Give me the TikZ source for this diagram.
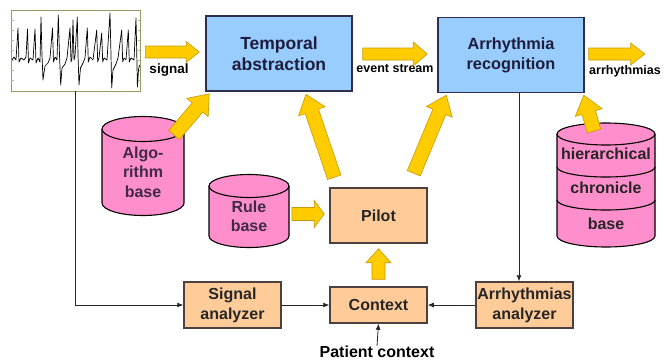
\documentclass[tikz,border=0pt]{standalone}
\usepackage{fontspec}
\setmainfont{Liberation Sans}
\usetikzlibrary{calc,arrows.meta}
\definecolor{boxblue}{HTML}{99CCFF}
\definecolor{boxblueedge}{HTML}{2E2E4E}
\definecolor{peach}{HTML}{FFCC99}
\definecolor{peachedge}{HTML}{4F4040}
\definecolor{cylpink}{HTML}{FF8ECC}
\definecolor{arrowfill}{HTML}{FFCC00}
\definecolor{arrowedge}{HTML}{C89A00}
\definecolor{navytext}{HTML}{1E1E3C}
\definecolor{cyltext}{HTML}{3F2A48}
\definecolor{ecgedge}{HTML}{9A9A60}

% from, to, shaft half width, head half width, head length
\newcommand\fatarrow[5]{%
 \draw[fatarr] let \p1=#1, \p2=#2, \n1={atan2(\y2-\y1,\x2-\x1)}, \n2={veclen(\x2-\x1,\y2-\y1)} in
 [shift={(\x1,\y1)}, rotate=\n1] (0pt,-#3pt) -- ({\n2*1pt-#5pt},-#3pt) -- ({\n2*1pt-#5pt},-#4pt)
 -- ({\n2*1pt},0pt) -- ({\n2*1pt-#5pt},#4pt) -- ({\n2*1pt-#5pt},#3pt) -- (0pt,#3pt) -- cycle;}

% cx, top centre y, bottom centre y, rx, ry
\newcommand\cylbody[5]{%
 \filldraw[cylshape] ({#1-#4},#2) -- ({#1-#4},#3) arc[start angle=180,end angle=360,x radius=#4pt,y radius=#5pt] -- ({#1+#4},#2);
 \filldraw[cylshape] (#1,#2) ellipse[x radius=#4pt,y radius=#5pt];}

\begin{document}
\begin{tikzpicture}[x=1pt,y=-1pt,
  fatarr/.style={fill=arrowfill,draw=arrowedge,line width=0.6pt,line join=miter},
  cylshape/.style={fill=cylpink,draw=black,line width=1.1pt},
  bluebox/.style={rectangle,fill=boxblue,draw=boxblueedge,line width=1.5pt,
     minimum width=146pt,minimum height=75pt,inner sep=0pt,align=center,text=navytext},
  peachbox/.style={rectangle,fill=peach,draw=peachedge,line width=1.5pt,
     minimum width=97pt,inner sep=0pt,align=center,text=black!85,
     font=\bfseries\fontsize{16}{20}\selectfont},
  cyltxt/.style={align=center,text=cyltext,inner sep=0pt,font=\bfseries\fontsize{16}{19.5}\selectfont},
  lbl/.style={inner sep=0pt,text=black,font=\bfseries\fontsize{12.5}{14}\selectfont},
  conn/.style={draw=black!85,line width=0.8pt,-{Latex[length=6pt,width=5pt]}}
]
\useasboundingbox (0,0) rectangle (664,364);

% ECG strip
\node[draw=ecgedge,line width=0.8pt,fill=white,minimum width=129pt,minimum height=81pt,inner sep=0pt] (ecg) at (75.5,50.5) {};
\foreach \yy in {20,30,...,80} {
  \draw[ecgedge!70,line width=0.4pt] (11,\yy) -- (13.5,\yy);
  \draw[ecgedge!70,line width=0.4pt] (137.5,\yy) -- (140,\yy);
}
\draw[black,line width=0.7pt,line join=round] plot coordinates {
 (12,60) (14,57) (16,60) (18,28) (19,62) (21,58) (24,60) (26,57) (27.5,29) (28.5,63) (30,58) (33,60)
 (35,29) (36,63) (38,58) (40,62) (41,17) (42,55) (43,80) (45,66) (48,63) (50,58) (52.5,28) (53.5,62)
 (55,57) (57,60) (58.3,15) (59.5,55) (60.7,85) (62,68) (65,64) (67,58) (70,28) (71,62) (72,58) (73,20)
 (74,60) (75,56) (77.3,17) (78,55) (79,85) (80.5,68) (83,63) (85,58) (87.3,28) (88.3,62) (90,57) (93,60)
 (96.7,30) (97.7,62) (99,58) (101.7,33) (102.7,62) (104,58) (107,60) (110,13) (111,55) (111.7,88) (113,70)
 (116,64) (118,58) (121.7,30) (122.7,62) (124,58) (126,60) (128.3,30) (129.3,62) (131,58) (134,60)
 (136,18) (136.8,55) (137.4,87) (138.5,70) (139.5,65)};

% main boxes
\node[bluebox,font=\bfseries\fontsize{17.5}{21}\selectfont] (ta) at (279,53.5) {Temporal\\abstraction};
\node[bluebox,font=\bfseries\fontsize{16.3}{20}\selectfont] (ar) at (511,55) {Arrhythmia\\recognition};
\node[peachbox,minimum height=55pt] (pilot) at (378.5,215.5) {Pilot};
\node[peachbox,minimum height=36pt] (ctx) at (378.5,305) {Context};
\node[peachbox,minimum height=46pt] (sa) at (232.5,305) {Signal\\analyzer};
\node[peachbox,minimum height=46pt] (aa) at (524.5,305) {Arrhythmias\\analyzer};

% cylinders
\cylbody{143}{129}{203}{41}{12.5}
\node[cyltxt] (ab) at (143,172) {Algo-\\rithm\\base};
\cylbody{249}{186}{236}{40}{11.5}
\node[cyltxt,font=\bfseries\fontsize{16}{19}\selectfont] (rb) at (249,216.5) {Rule\\base};
\cylbody{606}{134}{236}{49}{11}
\draw[black,line width=1.1pt] (557,167) arc[start angle=180,end angle=360,x radius=49pt,y radius=10pt];
\draw[black,line width=1.1pt] (557,200) arc[start angle=180,end angle=360,x radius=49pt,y radius=10pt];
\node[cyltxt,text=black!85] (hc1) at (606,154) {hierarchical};
\node[cyltxt,text=black!85] (hc2) at (606,188) {chronicle};
\node[cyltxt,text=black!85] (hc3) at (606,224) {base};

% labels
\node[lbl,font=\bfseries\fontsize{13.5}{15}\selectfont] (lsig) at (169,70) {signal};
\node[lbl] (lev) at (395,68) {event stream};
\node[lbl] (larr) at (625,71) {arrhythmias};
\node[inner sep=0pt,font=\bfseries\fontsize{16}{19}\selectfont] (ptc) at (377,352) {Patient context};

% fat arrows
\coordinate (s1) at ($(ecg.east)+(5,1.5)$);
\coordinate (s2) at ($(ta.west)+(-6,-1.5)$);
\fatarrow{(s1)}{(s2)}{6}{10.5}{13}
\coordinate (e1) at ($(ta.east)+(10,0.5)$);
\coordinate (e2) at ($(ar.west)+(-10,-1)$);
\fatarrow{(e1)}{(e2)}{6}{12}{14}
\coordinate (r1) at ($(ar.east)+(4,-1)$);
\coordinate (r2) at ($(ar.east)+(60,-1)$);
\fatarrow{(r1)}{(r2)}{6}{11}{14}
\coordinate (a1) at (174,135);
\coordinate (a2) at ($(ta.south west)+(4,2)$);
\fatarrow{(a1)}{(a2)}{7}{14}{18}
\coordinate (p1) at ($(pilot.north west)+(5,-10)$);
\coordinate (p2) at ($(ta.south)+(27,2.5)$);
\fatarrow{(p1)}{(p2)}{7}{14}{18}
\coordinate (q1) at ($(pilot.north east)+(-14,-14)$);
\coordinate (q2) at ($(ar.south west)+(9,2)$);
\fatarrow{(q1)}{(q2)}{7}{14}{18}
\coordinate (h1) at (594,131);
\coordinate (h2) at ($(ar.south east)+(-1,2)$);
\fatarrow{(h1)}{(h2)}{7}{14}{18}
\coordinate (u1) at (292,214);
\coordinate (u2) at ($(pilot.west |- u1)+(-5,0)$);
\fatarrow{(u1)}{(u2)}{6.5}{13.5}{10}
\coordinate (c1) at ($(ctx.north)+(0,-7)$);
\coordinate (c2) at ($(pilot.south)+(0,5)$);
\fatarrow{(c1)}{(c2)}{6.5}{12.5}{14}

% thin connectors
\draw[conn] (ecg.south) -- (ecg.south |- sa.west) -- (sa.west);
\draw[conn] (sa.east) -- (ctx.west);
\draw[conn] (aa.west) -- (ctx.east);
\draw[conn] (ptc.north) -- (ctx.south);
\coordinate (arl) at ($(ar.south)+(8,0)$);
\draw[conn] (arl) -- (arl |- aa.north);
\end{tikzpicture}
\end{document}
